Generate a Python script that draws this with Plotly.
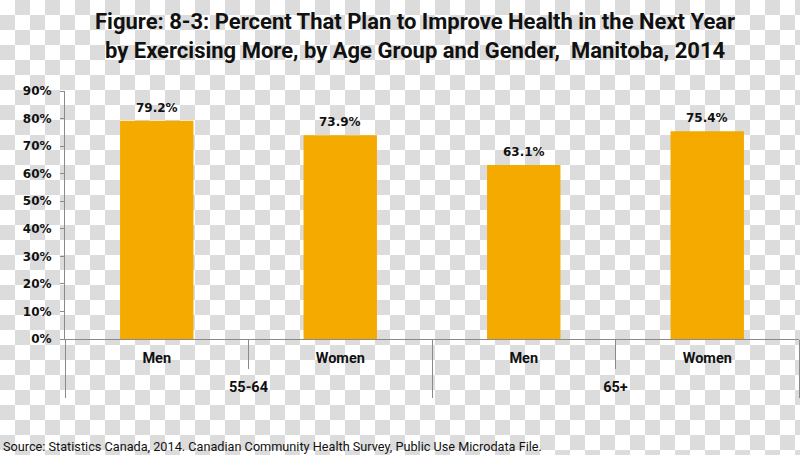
import base64
import plotly.graph_objects as go

# ---- data ----
age_groups = ["55-64", "65+"]
genders = ["Men", "Women", "Men", "Women"]
percent_values = [79.2, 73.9, 63.1, 75.4]
y_tick_values = [0, 10, 20, 30, 40, 50, 60, 70, 80, 90]
y_tick_labels = ["0%", "10%", "20%", "30%", "40%", "50%", "60%", "70%", "80%", "90%"]

title_text = ("Figure: 8-3: Percent That Plan to Improve Health in the Next Year<br>"
              "by Exercising More, by Age Group and Gender,  Manitoba, 2014")
source_text = ("Source: Statistics Canada, 2014. Canadian Community Health Survey, "
               "Public Use Microdata File.")

# ---- derived positions (category index scale) ----
n_cat = len(genders)
per_group = n_cat // len(age_groups)
bar_x = list(range(n_cat))
group_centers = [g * per_group + (per_group - 1) / 2 for g in range(len(age_groups))]
group_bounds = [g * per_group - 0.5 for g in range(len(age_groups) + 1)]
inner_bounds = [g * per_group + k - 0.5 for g in range(len(age_groups)) for k in range(1, per_group)]

# ---- style ----
W, H = 800, 455
ML, MR, MT, MB = 65, 1, 91, 116
PW, PH = W - ML - MR, H - MT - MB
BAR_COLOR = "#F5AA00"
AXIS_COLOR = "#8a8a8a"
TXT = "#111111"
HEAD = "Roboto, DejaVu Sans Condensed, sans-serif"
WIDE = "DejaVu Sans, Verdana, sans-serif"
XRANGE = [-0.5, n_cat - 0.5]

# checkerboard background (transparency pattern of the reference picture)
svg = (f'<svg xmlns="http://www.w3.org/2000/svg" width="{W}" height="{H}" viewBox="0 0 {W} {H}">'
       '<defs><pattern id="p" width="30" height="30" patternUnits="userSpaceOnUse">'
       '<rect width="30" height="30" fill="#ffffff"/>'
       '<rect x="15" y="0" width="15" height="15" fill="#dcdcdc"/>'
       '<rect x="0" y="15" width="15" height="15" fill="#dcdcdc"/>'
       '</pattern></defs>'
       f'<rect width="{W}" height="{H}" fill="url(#p)"/></svg>')
svg_uri = "data:image/svg+xml;base64," + base64.b64encode(svg.encode()).decode()

fig = go.Figure()
fig.add_trace(go.Bar(
    x=bar_x,
    y=percent_values,
    width=0.4,
    marker=dict(color=BAR_COLOR, line=dict(width=0)),
    hoverinfo="skip",
))
# invisible helper traces so the overlaid divider / group-label axes are drawn
fig.add_trace(go.Scatter(x=group_bounds, y=[0] * len(group_bounds), xaxis="x2",
                         mode="markers", marker=dict(opacity=0), hoverinfo="skip"))
fig.add_trace(go.Scatter(x=group_centers, y=[0] * len(group_centers), xaxis="x3",
                         mode="markers", marker=dict(opacity=0), hoverinfo="skip"))

annotations = [
    dict(x=xi, y=v, xref="x", yref="y", text=f"{v:.1f}%", showarrow=False,
         yanchor="bottom", yshift=4,
         font=dict(family=WIDE, size=12, color=TXT, weight="bold"))
    for xi, v in zip(bar_x, percent_values)
]
annotations.append(dict(text=title_text, xref="paper", yref="paper",
                        x=(415 - ML) / PW, y=1, xanchor="center", yanchor="top",
                        yshift=MT - 7, showarrow=False, align="center",
                        font=dict(family=HEAD, size=22, color=TXT, weight="bold")))
annotations.append(dict(text=source_text, xref="paper", yref="paper", x=0, y=0,
                        xanchor="left", yanchor="middle", xshift=-64, yshift=-107,
                        showarrow=False,
                        font=dict(family=HEAD, size=12.7, color=TXT)))

fig.update_layout(
    width=W, height=H,
    margin=dict(l=ML, r=MR, t=MT, b=MB, pad=0),
    paper_bgcolor="#ffffff",
    plot_bgcolor="rgba(0,0,0,0)",
    showlegend=False,
    # gender labels
    xaxis=dict(range=XRANGE, tickvals=bar_x, ticktext=genders,
               showline=True, linecolor=AXIS_COLOR, linewidth=1,
               ticks="outside", ticklen=6, tickcolor="rgba(0,0,0,0)",
               showgrid=False, zeroline=False,
               tickfont=dict(family=HEAD, size=14.5, color=TXT, weight="bold")),
    # category dividers (long at group bounds, short inside groups)
    xaxis2=dict(overlaying="x", anchor="y", side="bottom", range=XRANGE,
                tickvals=group_bounds, ticks="outside", ticklen=58,
                tickcolor=AXIS_COLOR, tickwidth=1,
                minor=dict(tickvals=inner_bounds, ticks="outside", ticklen=29,
                           tickcolor=AXIS_COLOR, tickwidth=1, showgrid=False),
                showticklabels=False, showline=False, showgrid=False, zeroline=False),
    # age group labels
    xaxis3=dict(overlaying="x", anchor="y", side="bottom", range=XRANGE,
                tickvals=group_centers, ticktext=age_groups,
                ticks="outside", ticklen=35, tickcolor="rgba(0,0,0,0)",
                showline=False, showgrid=False, zeroline=False,
                tickfont=dict(family=HEAD, size=14.5, color=TXT, weight="bold")),
    yaxis=dict(range=[0, 90], tickvals=y_tick_values, ticktext=y_tick_labels,
               showline=True, linecolor=AXIS_COLOR, linewidth=1, ticks="outside",
               ticklen=4, tickcolor=AXIS_COLOR, showgrid=False, zeroline=False,
               ticklabelstandoff=6,
               tickfont=dict(family=WIDE, size=12, color=TXT, weight="bold")),
    images=[dict(source=svg_uri, xref="paper", yref="paper",
                 x=-ML / PW, y=1 + MT / PH, sizex=W / PW, sizey=H / PH,
                 xanchor="left", yanchor="top", sizing="stretch", layer="below")],
    annotations=annotations,
)

fig.write_html("out.html", config={"displayModeBar": False},
               post_script="document.body.style.margin='0';document.body.style.padding='0';")
